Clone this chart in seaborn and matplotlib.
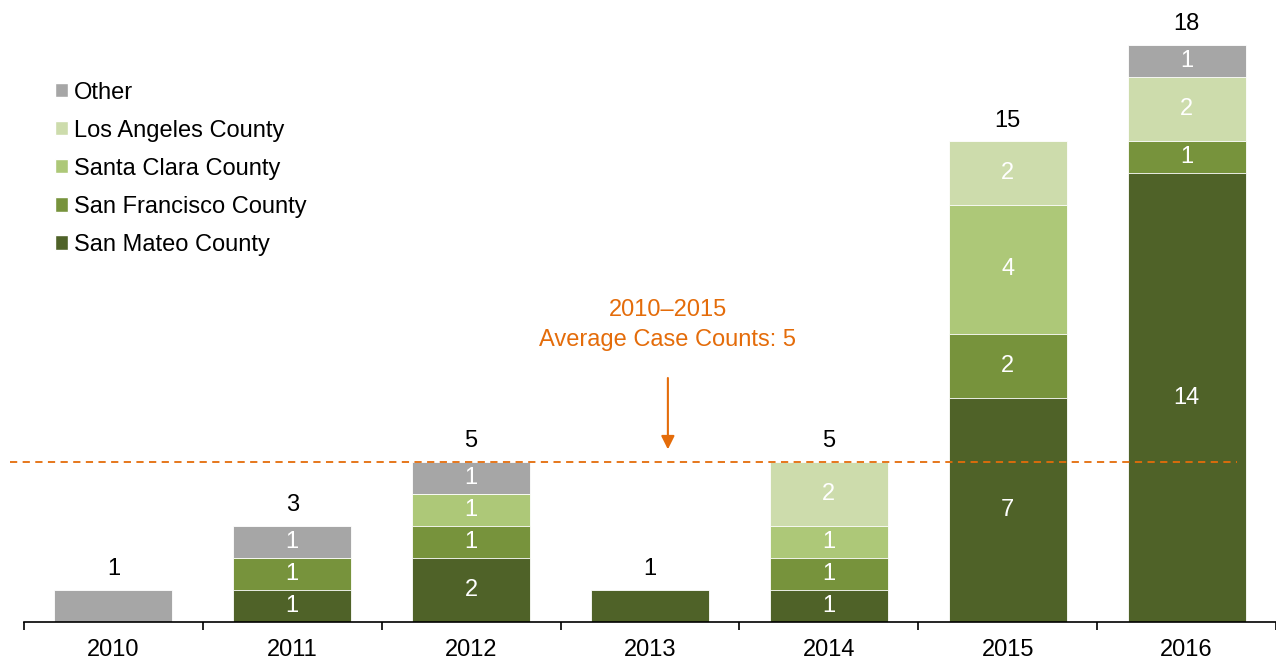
import numpy as np
import pandas as pd
import matplotlib
matplotlib.use("Agg")
import matplotlib.pyplot as plt
from matplotlib.patches import Patch
from matplotlib.ticker import FixedLocator, NullFormatter
import seaborn as sns

years = ["2010", "2011", "2012", "2013", "2014", "2015", "2016"]
san_mateo = [0, 1, 2, 1, 1, 7, 14]
san_francisco = [0, 1, 1, 0, 1, 2, 1]
santa_clara = [0, 0, 1, 0, 1, 4, 0]
los_angeles = [0, 0, 0, 0, 2, 2, 2]
other = [1, 1, 1, 0, 0, 0, 1]
average_2010_2015 = 5

series = [
    ("San Mateo County", san_mateo, "#4F6228"),
    ("San Francisco County", san_francisco, "#77933C"),
    ("Santa Clara County", santa_clara, "#ADC878"),
    ("Los Angeles County", los_angeles, "#CDDCAC"),
    ("Other", other, "#A6A6A6"),
]

sns.set_style("white")
plt.rcParams["font.family"] = ["Liberation Sans", "DejaVu Sans"]
FS = 17
plt.rcParams["font.size"] = FS

fig = plt.figure(figsize=(12.76, 6.6), dpi=100)
ax = fig.add_axes([24 / 1276, 38 / 660, 1252 / 1276, 622 / 660])

# stacked bars: draw cumulative totals from the top layer down
df = pd.DataFrame({name: vals for name, vals, _ in series}, index=years)
cum = df.cumsum(axis=1)
for name, _, color in reversed(series):
    sns.barplot(x=years, y=cum[name].values, color=color, width=0.66,
                saturation=1, edgecolor="white", linewidth=0.6, ax=ax, zorder=2)

totals = df.sum(axis=1).values
for i, yr in enumerate(years):
    row = df.loc[yr]
    nonzero = (row > 0).sum()
    bottom = 0
    for name, _, _ in series:
        v = row[name]
        if v > 0 and nonzero > 1:
            ax.text(i, bottom + v / 2, str(v), ha="center", va="center",
                    color="white", fontsize=FS, zorder=4)
        bottom += v
    ax.text(i, totals[i] + 0.3, str(totals[i]), ha="center", va="bottom",
            color="black", fontsize=FS)

# average line and annotation
orange = "#E46C0A"
ax.plot([-0.58, 6.28], [average_2010_2015, average_2010_2015], ls=(0, (4, 3)),
        color=orange, lw=1.3, clip_on=False, zorder=3)
ax.annotate("", xy=(3.1, average_2010_2015 + 0.3), xytext=(3.1, 7.7),
            arrowprops=dict(arrowstyle="-|>", color=orange, lw=1.5,
                            mutation_scale=20))
ax.text(3.1, 9.75, "2010\u20132015", ha="center", va="center", color=orange, fontsize=FS)
ax.text(3.1, 8.8, "Average Case Counts: 5", ha="center", va="center",
        color=orange, fontsize=FS)

ax.set_xlim(-0.5, 6.5)
ax.set_ylim(0, 622 / 32.05)
ax.set_yticks([])
for s in ["top", "right", "left"]:
    ax.spines[s].set_visible(False)
ax.spines["bottom"].set_color("black")
ax.spines["bottom"].set_linewidth(1.2)

ax.set_xticks(range(len(years)))
ax.set_xticklabels(years, fontsize=FS, color="black")
ax.tick_params(axis="x", which="major", length=0, pad=12)
ax.xaxis.set_minor_locator(FixedLocator(np.arange(-0.5, 7, 1)))
ax.xaxis.set_minor_formatter(NullFormatter())
ax.tick_params(axis="x", which="minor", length=6, width=1.2, color="black",
               direction="out", bottom=True)
ax.set_xlabel("")
ax.set_ylabel("")

handles = [Patch(facecolor=c, label=n) for n, _, c in reversed(series)]
leg = ax.legend(handles=handles, loc="upper left", bbox_to_anchor=(0.0176, 0.884),
                frameon=False, fontsize=FS, handlelength=0.55, handleheight=0.55,
                handletextpad=0.25, labelspacing=0.68, borderaxespad=0)
for t in leg.get_texts():
    t.set_color("black")

fig.savefig("out.png", dpi=100)
